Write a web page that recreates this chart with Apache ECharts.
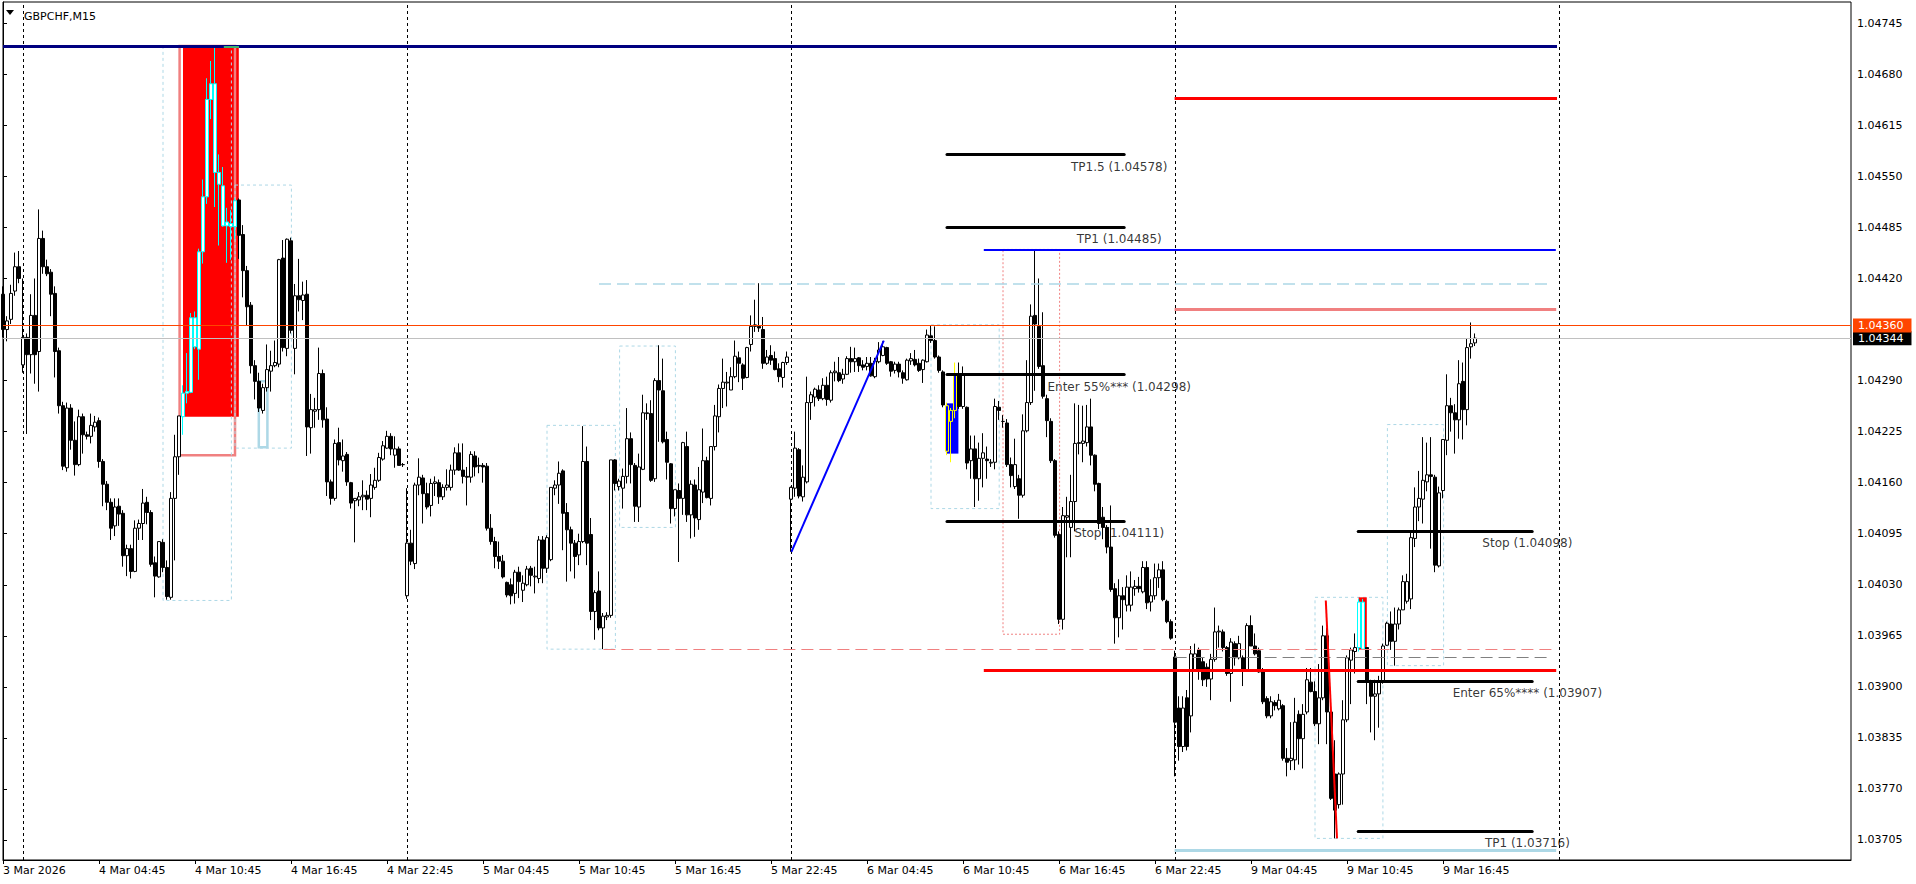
<!DOCTYPE html>
<html><head><meta charset="utf-8">
<script src="https://cdn.jsdelivr.net/npm/echarts@6/dist/echarts.min.js"></script>
<style>html,body{margin:0;padding:0;background:#fff;}#c{width:1916px;height:884px;}</style>
</head><body><div id="c"></div>
<script>
const FONT = 'DejaVu Sans';
const symbolTitle = 'GBPCHF,M15';

// x tick labels, one every 24 bars (6 hours of M15)
const xTickLabels = ['3 Mar 2026','4 Mar 04:45','4 Mar 10:45','4 Mar 16:45','4 Mar 22:45','5 Mar 04:45','5 Mar 10:45','5 Mar 16:45','5 Mar 22:45','6 Mar 04:45','6 Mar 10:45','6 Mar 16:45','6 Mar 22:45','9 Mar 04:45','9 Mar 10:45','9 Mar 16:45'];
const yTickValues = [1.03705,1.03770,1.03835,1.03900,1.03965,1.04030,1.04095,1.04160,1.04225,1.04290,1.04420,1.04485,1.04550,1.04615,1.04680,1.04745];
const totalSlots = 462; // visible bar slots incl. right shift

// candles [open, high, low, close]
const bars_03Mar = [
[1.04400,1.04410,1.04345,1.04355],[1.04355,1.04372,1.04340,1.04366],[1.04368,1.04412,1.04362,1.04401],[1.04404,1.04453,1.04398,1.04435],[1.04435,1.04455,1.04414,1.04420]];
const bars_04Mar = [
[1.04310,1.04420,1.04300,1.04345],[1.04345,1.04350,1.04222,1.04323],[1.04323,1.04400,1.04299,1.04373],[1.04373,1.04420,1.04286,1.04323],
[1.04327,1.04508,1.04276,1.04471],[1.04471,1.04481,1.04426,1.04435],[1.04435,1.04444,1.04423,1.04426],[1.04428,1.04432,1.04372,1.04400],
[1.04401,1.04410,1.04294,1.04327],[1.04328,1.04332,1.04248,1.04258],[1.04258,1.04263,1.04176,1.04181],[1.04179,1.04262,1.04174,1.04255],
[1.04255,1.04260,1.04202,1.04214],[1.04214,1.04238,1.04169,1.04183],[1.04183,1.04253,1.04181,1.04244],[1.04244,1.04248,1.04197,1.04221],
[1.04221,1.04225,1.04215,1.04219],[1.04219,1.04248,1.04210,1.04233],[1.04231,1.04245,1.04225,1.04237],[1.04239,1.04243,1.04179,1.04187],
[1.04187,1.04190,1.04130,1.04158],[1.04158,1.04162,1.04125,1.04135],[1.04135,1.04140,1.04087,1.04102],[1.04105,1.04140,1.04092,1.04129],
[1.04130,1.04140,1.04105,1.04120],[1.04121,1.04125,1.04053,1.04067],[1.04067,1.04081,1.04041,1.04076],[1.04076,1.04081,1.04038,1.04047],
[1.04047,1.04112,1.04046,1.04102],[1.04102,1.04113,1.04087,1.04108],[1.04108,1.04152,1.04087,1.04134],[1.04135,1.04142,1.04107,1.04122],
[1.04122,1.04125,1.04053,1.04056],[1.04058,1.04066,1.04014,1.04041],[1.04040,1.04085,1.04039,1.04085],[1.04084,1.04088,1.04046,1.04052],
[1.04052,1.04061,1.04011,1.04015],[1.04014,1.04148,1.04011,1.04140],[1.04140,1.04221,1.04061,1.04193],[1.04193,1.04245,1.04170,1.04245],
[1.04244,1.04284,1.04221,1.04274],[1.04274,1.04325,1.04261,1.04276],[1.04275,1.04376,1.04274,1.04370],[1.04370,1.04378,1.04330,1.04333],
[1.04330,1.04458,1.04291,1.04454],[1.04454,1.04546,1.04439,1.04524],[1.04524,1.04675,1.04515,1.04648],[1.04648,1.04697,1.04623,1.04668],
[1.04668,1.04716,1.04511,1.04555],[1.04555,1.04578,1.04462,1.04540],[1.04538,1.04562,1.04486,1.04487],[1.04487,1.04510,1.04440,1.04492],
[1.04490,1.04507,1.04444,1.04486],[1.04486,1.04522,1.04470,1.04519],[1.04520,1.04522,1.04445,1.04475],[1.04476,1.04488,1.04396,1.04430],
[1.04430,1.04436,1.04360,1.04384],[1.04386,1.04390,1.04299,1.04309],[1.04309,1.04316,1.04266,1.04289],[1.04289,1.04300,1.04250,1.04255],
[1.04252,1.04286,1.04248,1.04281],[1.04281,1.04336,1.04276,1.04304],[1.04302,1.04328,1.04276,1.04309],[1.04309,1.04341,1.04307,1.04313],
[1.04311,1.04445,1.04307,1.04444],[1.04446,1.04469,1.04327,1.04332],[1.04331,1.04471,1.04321,1.04470],[1.04468,1.04472,1.04350,1.04354],
[1.04331,1.04413,1.04298,1.04398],[1.04398,1.04445,1.04378,1.04393],[1.04392,1.04416,1.04367,1.04399],[1.04400,1.04418,1.04194,1.04231],
[1.04230,1.04273,1.04197,1.04253],[1.04251,1.04268,1.04230,1.04253],[1.04253,1.04332,1.04240,1.04299],[1.04299,1.04304,1.04230,1.04240],
[1.04241,1.04256,1.04143,1.04161],[1.04161,1.04164,1.04132,1.04140],[1.04140,1.04215,1.04137,1.04210],[1.04211,1.04230,1.04182,1.04189],
[1.04188,1.04215,1.04174,1.04194],[1.04196,1.04199,1.04156,1.04161],[1.04160,1.04161,1.04127,1.04134],[1.04137,1.04140,1.04084,1.04140],
[1.04138,1.04148,1.04130,1.04142],[1.04142,1.04163,1.04125,1.04144],[1.04144,1.04150,1.04125,1.04139],[1.04140,1.04171,1.04116,1.04157],
[1.04154,1.04179,1.04151,1.04163],[1.04163,1.04198,1.04161,1.04192],[1.04190,1.04213,1.04188,1.04207],[1.04204,1.04226,1.04203,1.04219],
[1.04219,1.04223,1.04195,1.04203],[1.04195,1.04219,1.04179,1.04203],[1.04203,1.04206,1.04182,1.04182],[1.04183,1.04185,1.04180,1.04183]];
const bars_05Mar = [
[1.04016,1.04153,1.04012,1.04083],[1.04083,1.04100,1.04055,1.04060],[1.04057,1.04160,1.04050,1.04157],[1.04157,1.04191,1.04144,1.04167],
[1.04166,1.04170,1.04108,1.04146],[1.04146,1.04160,1.04126,1.04129],[1.04131,1.04165,1.04117,1.04159],[1.04159,1.04168,1.04143,1.04161],
[1.04160,1.04164,1.04133,1.04142],[1.04142,1.04158,1.04138,1.04154],[1.04154,1.04177,1.04150,1.04157],[1.04154,1.04183,1.04150,1.04176],
[1.04176,1.04205,1.04170,1.04198],[1.04198,1.04210,1.04175,1.04176],[1.04176,1.04210,1.04159,1.04168],[1.04168,1.04180,1.04131,1.04167],
[1.04167,1.04200,1.04160,1.04196],[1.04194,1.04200,1.04168,1.04180],[1.04182,1.04192,1.04172,1.04181],[1.04182,1.04185,1.04160,1.04180],
[1.04181,1.04185,1.04099,1.04102],[1.04102,1.04120,1.04081,1.04085],[1.04085,1.04091,1.04051,1.04066],[1.04066,1.04085,1.04050,1.04060],
[1.04060,1.04068,1.04038,1.04040],[1.04033,1.04034,1.04014,1.04017],[1.04030,1.04038,1.04005,1.04016],[1.04019,1.04049,1.04006,1.04046],
[1.04046,1.04053,1.04013,1.04034],[1.04023,1.04042,1.04008,1.04032],[1.04030,1.04054,1.04028,1.04050],[1.04051,1.04054,1.04028,1.04042],
[1.04040,1.04053,1.04019,1.04041],[1.04038,1.04092,1.04032,1.04087],[1.04087,1.04092,1.04032,1.04051],[1.04051,1.04093,1.04045,1.04090],
[1.04062,1.04154,1.04060,1.04154],[1.04153,1.04163,1.04144,1.04157],[1.04157,1.04187,1.04133,1.04172],[1.04175,1.04177,1.04074,1.04121],
[1.04122,1.04134,1.04034,1.04100],[1.04100,1.04104,1.04047,1.04083],[1.04083,1.04087,1.04038,1.04066],[1.04068,1.04095,1.04055,1.04085],
[1.04085,1.04232,1.04083,1.04187],[1.04187,1.04206,1.04055,1.04083],[1.04094,1.04115,1.03985,1.03996],[1.03996,1.04023,1.03960,1.04020],
[1.04022,1.04047,1.03972,1.03975],[1.03975,1.03994,1.03948,1.03990],[1.03989,1.03995,1.03985,1.03991],[1.03991,1.04189,1.03988,1.04189],
[1.04189,1.04190,1.04150,1.04159],[1.04155,1.04165,1.04150,1.04162],[1.04153,1.04178,1.04127,1.04168],[1.04168,1.04255,1.04159,1.04216],
[1.04216,1.04224,1.04159,1.04183],[1.04182,1.04185,1.04110,1.04130],[1.04129,1.04197,1.04110,1.04180],[1.04177,1.04272,1.04176,1.04249],
[1.04248,1.04261,1.04240,1.04249],[1.04248,1.04265,1.04161,1.04163],[1.04165,1.04293,1.04161,1.04290],[1.04290,1.04335,1.04212,1.04278],
[1.04277,1.04318,1.04210,1.04212],[1.04215,1.04225,1.04164,1.04186],[1.04184,1.04185,1.04108,1.04127],[1.04127,1.04151,1.04117,1.04151],
[1.04150,1.04159,1.04059,1.04140],[1.04140,1.04212,1.04119,1.04211],[1.04206,1.04225,1.04110,1.04119],[1.04119,1.04163,1.04089,1.04158],
[1.04157,1.04164,1.04091,1.04115],[1.04113,1.04180,1.04100,1.04151],[1.04148,1.04229,1.04134,1.04188],[1.04188,1.04193,1.04140,1.04141],
[1.04140,1.04206,1.04131,1.04206],[1.04206,1.04259,1.04201,1.04245],[1.04244,1.04285,1.04224,1.04280],[1.04280,1.04318,1.04255,1.04288],
[1.04287,1.04301,1.04257,1.04288],[1.04278,1.04307,1.04278,1.04295],[1.04295,1.04341,1.04293,1.04321],[1.04319,1.04327,1.04288,1.04312],
[1.04310,1.04312,1.04278,1.04293],[1.04294,1.04333,1.04293,1.04332],[1.04336,1.04373,1.04327,1.04359],[1.04359,1.04393,1.04352,1.04361],
[1.04359,1.04414,1.04352,1.04357],[1.04355,1.04371,1.04305,1.04312],[1.04312,1.04329,1.04310,1.04320],[1.04322,1.04335,1.04310,1.04316],
[1.04318,1.04327,1.04303,1.04304],[1.04305,1.04312,1.04288,1.04295],[1.04294,1.04314,1.04281,1.04313],[1.04313,1.04327,1.04310,1.04320]];
const bars_06Mar = [
[1.04139,1.04155,1.04072,1.04154],[1.04153,1.04225,1.04142,1.04204],[1.04202,1.04204,1.04140,1.04143],[1.04142,1.04182,1.04136,1.04167],
[1.04161,1.04295,1.04159,1.04262],[1.04262,1.04276,1.04240,1.04272],[1.04269,1.04281,1.04257,1.04279],[1.04278,1.04284,1.04264,1.04267],
[1.04267,1.04293,1.04265,1.04284],[1.04284,1.04295,1.04258,1.04266],[1.04265,1.04303,1.04262,1.04300],[1.04300,1.04314,1.04289,1.04302],
[1.04300,1.04320,1.04288,1.04290],[1.04292,1.04305,1.04286,1.04298],[1.04298,1.04321,1.04297,1.04318],[1.04318,1.04333,1.04300,1.04314],
[1.04314,1.04332,1.04301,1.04318],[1.04319,1.04320,1.04301,1.04309],[1.04310,1.04316,1.04303,1.04307],[1.04308,1.04320,1.04303,1.04312],
[1.04312,1.04320,1.04295,1.04296],[1.04295,1.04319,1.04293,1.04315],[1.04314,1.04339,1.04312,1.04329],[1.04322,1.04340,1.04321,1.04333],
[1.04332,1.04333,1.04310,1.04312],[1.04314,1.04315,1.04295,1.04302],[1.04303,1.04314,1.04299,1.04311],[1.04311,1.04314,1.04294,1.04301],
[1.04300,1.04303,1.04286,1.04293],[1.04291,1.04318,1.04290,1.04316],[1.04315,1.04325,1.04310,1.04318],[1.04317,1.04329,1.04308,1.04310],
[1.04312,1.04318,1.04301,1.04303],[1.04304,1.04317,1.04287,1.04316],[1.04314,1.04355,1.04313,1.04348],[1.04347,1.04360,1.04338,1.04341],
[1.04341,1.04359,1.04318,1.04320],[1.04320,1.04322,1.04300,1.04303],[1.04301,1.04303,1.04256,1.04259],[1.04258,1.04262,1.04195,1.04200],
[1.04238,1.04255,1.04186,1.04252],[1.04252,1.04313,1.04242,1.04298],[1.04298,1.04313,1.04254,1.04257],[1.04257,1.04308,1.04254,1.04298],
[1.04256,1.04257,1.04177,1.04185],[1.04188,1.04220,1.04165,1.04203],[1.04203,1.04220,1.04129,1.04165],[1.04165,1.04211,1.04137,1.04191],
[1.04191,1.04223,1.04154,1.04198],[1.04190,1.04206,1.04165,1.04188],[1.04185,1.04190,1.04180,1.04186],[1.04186,1.04267,1.04177,1.04257],
[1.04256,1.04264,1.04240,1.04252],[1.04238,1.04246,1.04230,1.04238],[1.04236,1.04241,1.04180,1.04183],[1.04183,1.04192,1.04154,1.04169],
[1.04155,1.04216,1.04152,1.04183],[1.04165,1.04170,1.04114,1.04144],[1.04144,1.04247,1.04141,1.04226],[1.04226,1.04316,1.04224,1.04262],
[1.04262,1.04387,1.04259,1.04372],[1.04373,1.04456,1.04277,1.04362],[1.04359,1.04420,1.04305,1.04308],[1.04309,1.04377,1.04267,1.04270],
[1.04267,1.04272,1.04218,1.04239],[1.04238,1.04242,1.04185,1.04188],[1.04188,1.04190,1.04090,1.04093],[1.04094,1.04098,1.03980,1.03986],
[1.03986,1.04129,1.03973,1.04118],[1.04116,1.04142,1.04065,1.04118],[1.04103,1.04170,1.04065,1.04136],[1.04136,1.04261,1.04098,1.04210],
[1.04210,1.04259,1.04196,1.04211],[1.04210,1.04258,1.04186,1.04213],[1.04211,1.04259,1.04206,1.04231],[1.04231,1.04267,1.04182,1.04195],
[1.04195,1.04196,1.04149,1.04158],[1.04159,1.04160,1.04101,1.04108],[1.04116,1.04129,1.04088,1.04103],[1.04103,1.04106,1.04070,1.04078],
[1.04078,1.04131,1.04021,1.04024],[1.04025,1.04032,1.03955,1.03988],[1.03988,1.04037,1.03963,1.04016],[1.04016,1.04027,1.03973,1.04011],
[1.04004,1.04042,1.03996,1.04027],[1.04004,1.04047,1.03996,1.04027],[1.04025,1.04036,1.04016,1.04028],[1.04028,1.04040,1.04020,1.04025],
[1.04021,1.04060,1.04019,1.04052],[1.04052,1.04060,1.03999,1.04007],[1.04008,1.04037,1.03996,1.04016],[1.04016,1.04057,1.04011,1.04039],
[1.04039,1.04057,1.04026,1.04049],[1.04049,1.04060,1.04009,1.04011],[1.04009,1.04011,1.03981,1.03983],[1.03983,1.03986,1.03960,1.03962]];
const bars_09Mar = [
[1.03938,1.03946,1.03786,1.03855],[1.03873,1.03888,1.03806,1.03824],[1.03824,1.03888,1.03817,1.03873],[1.03886,1.03896,1.03819,1.03824],
[1.03863,1.03952,1.03842,1.03942],[1.03922,1.03955,1.03919,1.03942],[1.03947,1.03950,1.03909,1.03922],[1.03932,1.03937,1.03901,1.03909],
[1.03925,1.03930,1.03900,1.03910],[1.03910,1.03942,1.03883,1.03935],[1.03935,1.04001,1.03932,1.03970],[1.03970,1.03978,1.03950,1.03971],
[1.03970,1.03973,1.03945,1.03950],[1.03950,1.03952,1.03914,1.03917],[1.03917,1.03962,1.03881,1.03957],[1.03955,1.03958,1.03927,1.03937],
[1.03937,1.03965,1.03935,1.03955],[1.03937,1.03940,1.03901,1.03922],[1.03922,1.03981,1.03919,1.03978],[1.03978,1.03991,1.03952,1.03952],
[1.03952,1.03968,1.03940,1.03942],[1.03946,1.03950,1.03918,1.03919],[1.03921,1.03924,1.03878,1.03881],[1.03885,1.03888,1.03860,1.03863],
[1.03863,1.03888,1.03860,1.03881],[1.03880,1.03883,1.03870,1.03876],[1.03872,1.03891,1.03870,1.03883],[1.03876,1.03878,1.03806,1.03809],
[1.03809,1.03822,1.03786,1.03804],[1.03806,1.03855,1.03794,1.03809],[1.03807,1.03886,1.03794,1.03855],[1.03865,1.03870,1.03801,1.03834],
[1.03834,1.03878,1.03796,1.03865],[1.03868,1.03924,1.03865,1.03909],[1.03906,1.03924,1.03893,1.03894],[1.03894,1.03907,1.03850,1.03853],
[1.03853,1.03929,1.03827,1.03886],[1.03886,1.03978,1.03883,1.03965],[1.03965,1.03975,1.03827,1.03868],[1.03868,1.03873,1.03756,1.03758],
[1.03789,1.03832,1.03707,1.03743],[1.03750,1.03791,1.03745,1.03789],[1.03789,1.03883,1.03750,1.03858],[1.03858,1.03940,1.03855,1.03937],
[1.03934,1.03950,1.03878,1.03947],[1.03945,1.03968,1.03917,1.03950],[1.03950,1.04012,1.03945,1.04008],[1.04008,1.04012,1.03948,1.03948],
[1.03950,1.03950,1.03878,1.03906],[1.03906,1.03909,1.03842,1.03888],[1.03888,1.03909,1.03832,1.03891],[1.03891,1.03914,1.03848,1.03906],
[1.03906,1.03955,1.03904,1.03952],[1.03953,1.03983,1.03952,1.03981],[1.03980,1.03996,1.03947,1.03958],[1.03958,1.04001,1.03927,1.03980],
[1.03980,1.04001,1.03973,1.03998],[1.03998,1.04042,1.03998,1.04034],[1.04009,1.04044,1.04006,1.04034],[1.04012,1.04096,1.03999,1.04090],
[1.04089,1.04154,1.04078,1.04129],[1.04129,1.04175,1.04111,1.04140],[1.04139,1.04218,1.04108,1.04163],[1.04161,1.04211,1.04149,1.04170],
[1.04170,1.04218,1.04076,1.04168],[1.04167,1.04170,1.04046,1.04055],[1.04054,1.04155,1.04052,1.04147],[1.04150,1.04215,1.04140,1.04215],
[1.04214,1.04298,1.04195,1.04258],[1.04258,1.04268,1.04225,1.04249],[1.04249,1.04260,1.04197,1.04240],[1.04240,1.04316,1.04216,1.04286],
[1.04289,1.04313,1.04215,1.04253],[1.04253,1.04343,1.04233,1.04332],[1.04333,1.04364,1.04318,1.04337],[1.04338,1.04350,1.04334,1.04344]];

// highlighted candles (bar index ranges)
const cyanBars = [[45,58],[339,340]];
const yellowBars = [[236,238]];

// period separators (bar index of each day start)
const daySeparators = [5,101,197,293,389];

// horizontal levels: [fromBar, toBar, price]
const navyLevel = [0, 388.5, 1.04716];
const greenMark = [55.2, 59, 1.04715];
const upperRedLevel = [292.9, 388.5, 1.04650];
const blueLevel = [245.2, 388.2, 1.04456];
const lightBlueDashLevel = [149, 387.4, 1.04413];
const salmonLevel = [292.9, 388.3, 1.04381];
const lowerRedLevel = [245.2, 388.3, 1.03921];
const salmonDashLevel = [150.1, 387.4, 1.03948];
const greyDashLevel = [292.9, 387.4, 1.03938];
const lightBlueLowLevel = [292.9, 388.3, 1.03692];
const tradeLevelsA = [[236, 280.3, 1.04578], [236, 280.3, 1.04485], [236, 280.3, 1.04298], [236, 280.3, 1.04111]];
const tradeLevelsB = [[338.8, 382.3, 1.04098], [338.8, 382.3, 1.03907], [338.8, 382.3, 1.03716]];
// sloped lines: [[bar, price], [bar, price]]
const trendLine = [[197.1, 1.04072], [220.2, 1.04341]];
const redDropLine = [[330.7, 1.04010], [333.5, 1.03707]];
const askPrice = 1.04360;
const bidPrice = 1.04344;

// text notes: [centerBar, price, text]
const tradeNotes = [
  [279.05, 1.04562, 'TP1.5 (1.04578)'],
  [279.05, 1.04470, 'TP1 (1.04485)'],
  [279.05, 1.04282, 'Enter 55%*** (1.04298)'],
  [279.05, 1.04096, 'Stop (1.04111)'],
  [381.1, 1.04083, 'Stop (1.04098)'],
  [381.1, 1.03892, 'Enter 65%**** (1.03907)'],
  [381.1, 1.03701, 'TP1 (1.03716)']
];

// rectangles: [fromBar, toBar, topPrice, bottomPrice]
const redZone = [45.0, 58.95, 1.04716, 1.04244];
const coralZone = [44.15, 58.0, 1.04716, 1.04195];
const blueDashBoxes = [[40, 57.1, 1.04715, 1.04010], [58, 72.1, 1.04539, 1.04204], [136, 153.1, 1.04233, 1.03948], [154.15, 168.1, 1.04334, 1.04103], [232, 249.05, 1.04361, 1.04127], [328, 344.98, 1.04014, 1.03707], [346.1, 360.15, 1.04234, 1.03927]];
const blueSolidBox = [63.95, 66.1, 1.04289, 1.04205];
const salmonDotBox = [250, 264.15, 1.04457, 1.03967];
const redMiniBox = [338.9, 340.95, 1.04014, 1.03947];
const blueFillBox = [236, 238.85, 1.04261, 1.04197];

// ---------------- build ----------------
const allBars = [].concat(bars_03Mar, bars_04Mar, bars_05Mar, bars_06Mar, bars_09Mar);
const inRanges = (i, rs) => rs.some(r => i >= r[0] && i <= r[1]);
const candleData = allBars.map((b, i) => {
  const o = b[0], h = b[1], l = b[2], c = b[3];
  const item = { value: [i, o, c, Math.min(l, o, c), Math.max(h, o, c)] };
  if (inRanges(i, cyanBars)) item.itemStyle = { color: '#ffffff', color0: '#00FFFF', borderColor: '#00FFFF', borderColor0: '#00FFFF' };
  else if (inRanges(i, yellowBars)) item.itemStyle = { color: '#0000FF', color0: '#FFFF00', borderColor: '#FFFF00', borderColor0: '#FFFF00' };
  return item;
});

const seg = (a, style) => [{ coord: [a[0], a[2]], lineStyle: style }, { coord: [a[1], a[2]] }];
const slope = (a, style) => [{ coord: a[0], lineStyle: style }, { coord: a[1] }];
const rect = (r, style) => [{ coord: [r[0], r[2]], itemStyle: style }, { coord: [r[1], r[3]] }];

const LB = '#ADD8E6', SALMON = '#F08080';
const areaData = [
  rect(redZone, { color: '#FF0000', borderWidth: 0 }),
  rect(coralZone, { color: 'rgba(0,0,0,0)', borderColor: SALMON, borderWidth: 2.5 }),
  ...blueDashBoxes.map(r => rect(r, { color: 'rgba(0,0,0,0)', borderColor: LB, borderWidth: 1, borderType: [3, 3] })),
  rect(blueSolidBox, { color: 'rgba(0,0,0,0)', borderColor: LB, borderWidth: 2.5 }),
  rect(salmonDotBox, { color: 'rgba(0,0,0,0)', borderColor: SALMON, borderWidth: 1, borderType: [2, 2] }),
  rect(redMiniBox, { color: '#FF0000', borderWidth: 0 }),
  rect(blueFillBox, { color: '#0000FF', borderWidth: 0 })
];

const BLACK_THICK = { color: '#000', width: 3, type: 'solid', cap: 'round' };
const lineData = [
  seg(navyLevel, { color: '#000080', width: 3, type: 'solid' }),
  seg(greenMark, { color: '#3CB371', width: 2, type: 'solid' }),
  seg(upperRedLevel, { color: '#FF0000', width: 3, type: 'solid' }),
  seg(blueLevel, { color: '#0000FF', width: 2, type: 'solid' }),
  seg(lightBlueDashLevel, { color: LB, width: 1.5, type: [12, 6] }),
  seg(salmonLevel, { color: SALMON, width: 3, type: 'solid' }),
  seg(lowerRedLevel, { color: '#FF0000', width: 3, type: 'solid' }),
  seg(salmonDashLevel, { color: SALMON, width: 1, type: [12, 6] }),
  seg(greyDashLevel, { color: '#808080', width: 1, type: [12, 6] }),
  seg(lightBlueLowLevel, { color: LB, width: 3, type: 'solid' }),
  ...tradeLevelsA.map(a => seg(a, BLACK_THICK)),
  ...tradeLevelsB.map(a => seg(a, BLACK_THICK)),
  slope(trendLine, { color: '#0000FF', width: 2, type: 'solid' }),
  slope(redDropLine, { color: '#FF0000', width: 2, type: 'solid' }),
  { yAxis: bidPrice, lineStyle: { color: '#C0C0C0', width: 1, type: 'solid' },
    label: { show: true, position: 'end', distance: 2, formatter: p => Number(p.value).toFixed(5), color: '#fff', backgroundColor: '#000', padding: [2, 8, 1, 5], fontSize: 11, fontFamily: FONT } },
  { yAxis: askPrice, lineStyle: { color: '#FF4500', width: 1, type: 'solid' },
    label: { show: true, position: 'end', distance: 2, formatter: p => Number(p.value).toFixed(5), color: '#fff', backgroundColor: '#FF4500', padding: [2, 8, 1, 5], fontSize: 11, fontFamily: FONT } }
];

const xTickValues = xTickLabels.map((_, j) => j * 24);

const chart = echarts.init(document.getElementById('c'), null, { renderer: 'svg', width: 1916, height: 884 });
chart.setOption({
  animation: false,
  backgroundColor: '#ffffff',
  title: { text: symbolTitle, left: 19, top: 6, textStyle: { fontSize: 11, fontWeight: 'normal', color: '#000', fontFamily: FONT } },
  graphic: [{ type: 'polygon', shape: { points: [[6, 10], [14, 10], [10, 15]] }, style: { fill: '#000' }, z: 100 }],
  grid: { left: 3, right: 65, top: 2, bottom: 24, show: true, borderColor: '#000', borderWidth: 1, backgroundColor: '#fff' },
  xAxis: {
    type: 'value', min: 0, max: totalSlots,
    axisLine: { show: true, lineStyle: { color: '#000' } },
    axisTick: { show: true, length: 4, customValues: xTickValues, lineStyle: { color: '#000' } },
    axisLabel: { customValues: xTickValues, formatter: v => xTickLabels[Math.round(v / 24)] || '', align: 'left', margin: 5, color: '#000', fontSize: 11, fontFamily: FONT, showMinLabel: true, showMaxLabel: true },
    splitLine: { show: false }
  },
  yAxis: {
    type: 'value', position: 'right', min: 1.036795, max: 1.047721,
    axisLine: { show: true, lineStyle: { color: '#000' } },
    axisTick: { show: true, length: 4, customValues: yTickValues, lineStyle: { color: '#000' } },
    axisLabel: { customValues: yTickValues, formatter: v => v.toFixed(5), margin: 6, color: '#000', fontSize: 11, fontFamily: FONT },
    splitLine: { show: false }
  },
  series: [
    { type: 'line', data: [], silent: true,
      markArea: { silent: true, z: 1, data: areaData } },
    { type: 'line', data: [], silent: true,
      markLine: { silent: true, z: 1, symbol: ['none', 'none'], label: { show: false },
        lineStyle: { color: '#000', width: 1, type: [3, 3] },
        data: daySeparators.map(v => ({ xAxis: v })) } },
    { type: 'candlestick', z: 3, barWidth: 3, silent: true,
      encode: { x: 0, y: [1, 2, 3, 4] },
      itemStyle: { color: '#ffffff', color0: '#000000', borderColor: '#000000', borderColor0: '#000000', borderWidth: 1 },
      data: candleData },
    { type: 'line', data: [], silent: true,
      markLine: { silent: true, z: 6, precision: 5, symbol: ['none', 'none'], label: { show: false }, data: lineData } },
    { type: 'scatter', z: 8, symbolSize: 1, silent: true, itemStyle: { color: 'rgba(0,0,0,0)' },
      data: tradeNotes.map(t => ({ value: [t[0], t[1]], name: t[2] })),
      label: { show: true, position: 'inside', formatter: p => p.name, color: '#000', fontSize: 12, fontFamily: FONT, align: 'center', verticalAlign: 'middle' } }
  ]
});
</script></body></html>
